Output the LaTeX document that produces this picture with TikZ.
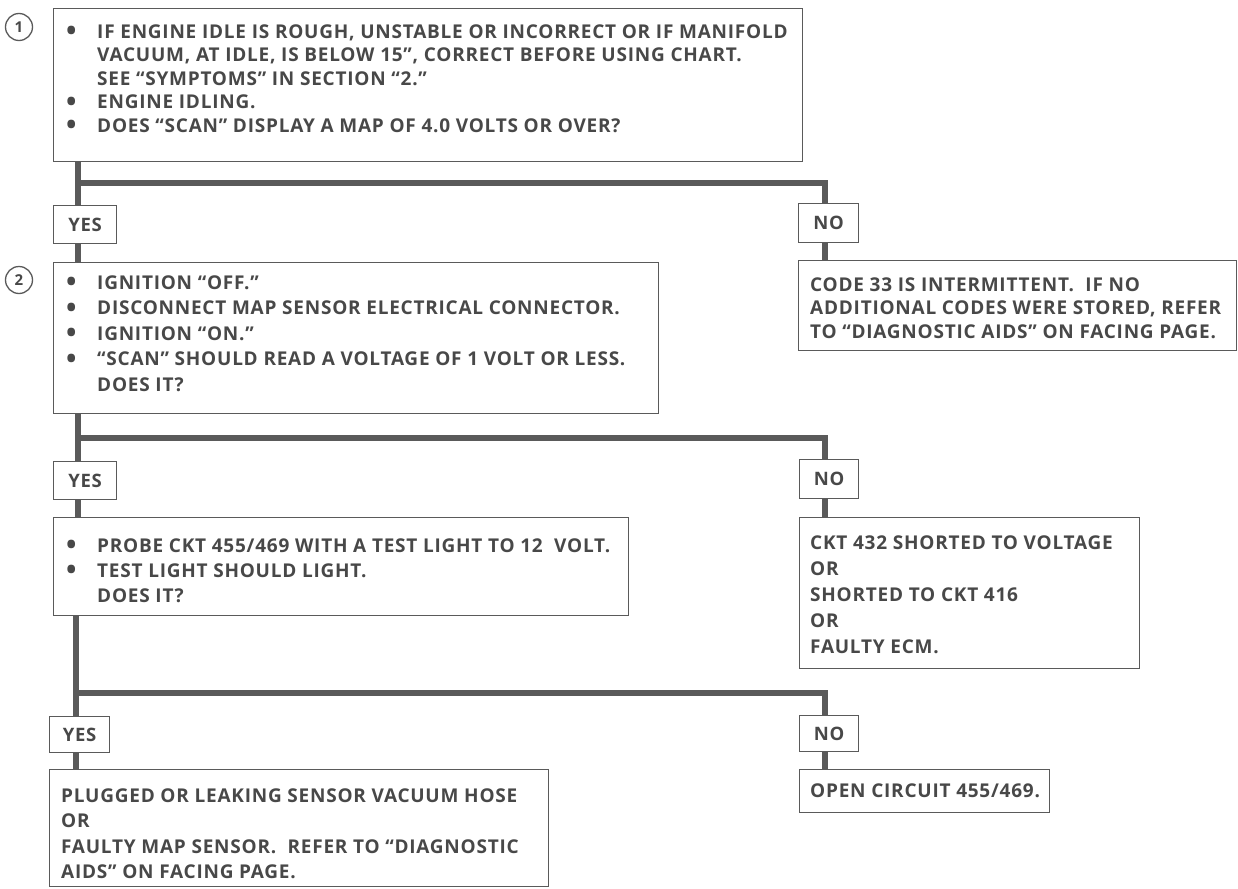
\documentclass[tikz,border=0pt]{standalone}
\usepackage{graphicx}
\usepackage{fontspec}
\setmainfont{Open Sans}[LetterSpace=4]
\definecolor{ink}{HTML}{484848}
\definecolor{rule}{HTML}{5A5A5A}
\newcommand{\bul}{\makebox[31pt][l]{\smash{\raisebox{-2.5pt}{\scalebox{1.45}{\textbullet}}}}}
\newcommand{\ind}{\hspace*{31pt}}
\tikzset{
  box/.style={draw=rule, line width=1.3pt, anchor=north west, inner sep=0pt},
  txt/.style={anchor=north west, inner sep=0pt, align=left, text=ink,
    font=\fontsize{19}{#1}\bfseries\selectfont},
  txt/.default=23.5,
  answer/.style={box, text=ink, font=\fontsize{18.5}{20}\bfseries\selectfont},
  stepnum/.style={circle, draw=rule, line width=1.3pt, minimum size=27pt,
    inner sep=0pt, text=ink, font=\fontsize{15}{16}\bfseries\selectfont},
  flow/.style={draw=rule, line width=6pt}
}
\begin{document}
\begin{tikzpicture}[x=1pt, y=-1pt]
\useasboundingbox (0,0) rectangle (1238,888);

% step 1
\node[stepnum] (n1) at (19,27) {1};
\node[box, minimum width=749pt, minimum height=153pt] (b1) at (53,8) {};
\node[txt] (t1) at (66,24.2) {\bul IF ENGINE IDLE IS ROUGH, UNSTABLE OR INCORRECT OR IF MANIFOLD\\
  \ind VACUUM, AT IDLE, IS BELOW 15”, CORRECT BEFORE USING CHART.\\
  \ind SEE “SYMPTOMS” IN SECTION “2.”\\
  \bul ENGINE IDLING.\\
  \bul DOES “SCAN” DISPLAY A MAP OF 4.0 VOLTS OR OVER?};
\node[answer, minimum width=63pt, minimum height=38pt] (yes1) at (53,205) {YES};
\node[answer, minimum width=60pt, minimum height=39pt] (no1) at (798,203) {NO};
\node[box, minimum width=438pt, minimum height=90pt] (c33) at (798,260) {};
\node[txt=23.5] (c33t) at (810,277.2) {CODE 33 IS INTERMITTENT. \ IF NO\\
  ADDITIONAL CODES WERE STORED, REFER\\
  TO “DIAGNOSTIC AIDS” ON FACING PAGE.};

% step 2
\node[stepnum] (n2) at (19,280) {2};
\node[box, minimum width=605pt, minimum height=151pt] (b2) at (53,262) {};
\node[txt=25.5] (t2) at (66,275.2) {\bul IGNITION “OFF.”\\
  \bul DISCONNECT MAP SENSOR ELECTRICAL CONNECTOR.\\
  \bul IGNITION “ON.”\\
  \bul “SCAN” SHOULD READ A VOLTAGE OF 1 VOLT OR LESS.\\
  \ind DOES IT?};
\node[answer, minimum width=63pt, minimum height=38pt] (yes2) at (53,461) {YES};
\node[answer, minimum width=59pt, minimum height=39pt] (no2) at (799,459) {NO};
\node[box, minimum width=340pt, minimum height=151pt] (ckt) at (799,517) {};
\node[txt=26] (ckt-t) at (810,535.2) {CKT 432 SHORTED TO VOLTAGE\\ OR\\ SHORTED TO CKT 416\\ OR\\ FAULTY ECM.};

% probe with test light
\node[box, minimum width=575pt, minimum height=98pt] (b3) at (53,517) {};
\node[txt=25] (t3) at (66,538.2) {\bul PROBE CKT 455/469 WITH A TEST LIGHT TO 12 \ VOLT.\\
  \bul TEST LIGHT SHOULD LIGHT.\\
  \ind DOES IT?};
\node[answer, minimum width=60pt, minimum height=36pt] (yes3) at (49,716) {YES};
\node[answer, minimum width=59pt, minimum height=36pt] (no3) at (799,715) {NO};
\node[box, minimum width=499pt, minimum height=117pt] (fin) at (49,769) {};
\node[txt=25.5] (fin-t) at (61,788.2) {PLUGGED OR LEAKING SENSOR VACUUM HOSE\\ OR\\
  FAULTY MAP SENSOR. \ REFER TO “DIAGNOSTIC\\ AIDS” ON FACING PAGE.};
\node[box, minimum width=250pt, minimum height=43pt] (open) at (799,769) {};
\node[txt] (open-t) at (810,783.7) {OPEN CIRCUIT 455/469.};

% yes/no branches
\coordinate (j1) at (78,183); \coordinate (k1) at (825,183);
\coordinate (j2) at (78,438); \coordinate (k2) at (825,438);
\coordinate (j3) at (76,693); \coordinate (k3) at (825,693);
\draw[flow] (b1.south -| j1) -- (yes1.north -| j1);
\draw[flow] (yes1.south -| j1) -- (b2.north -| j1);
\draw[flow] ([xshift=-3pt]j1) -- (k1) -- (no1.north -| k1);
\draw[flow] (no1.south -| k1) -- (c33.north -| k1);
\draw[flow] (b2.south -| j2) -- (yes2.north -| j2);
\draw[flow] (yes2.south -| j2) -- (b3.north -| j2);
\draw[flow] ([xshift=-3pt]j2) -- (k2) -- (no2.north -| k2);
\draw[flow] (no2.south -| k2) -- (ckt.north -| k2);
\draw[flow] (b3.south -| j3) -- (yes3.north -| j3);
\draw[flow] (yes3.south -| j3) -- (fin.north -| j3);
\draw[flow] ([xshift=-3pt]j3) -- (k3) -- (no3.north -| k3);
\draw[flow] (no3.south -| k3) -- (open.north -| k3);
\end{tikzpicture}
\end{document}
